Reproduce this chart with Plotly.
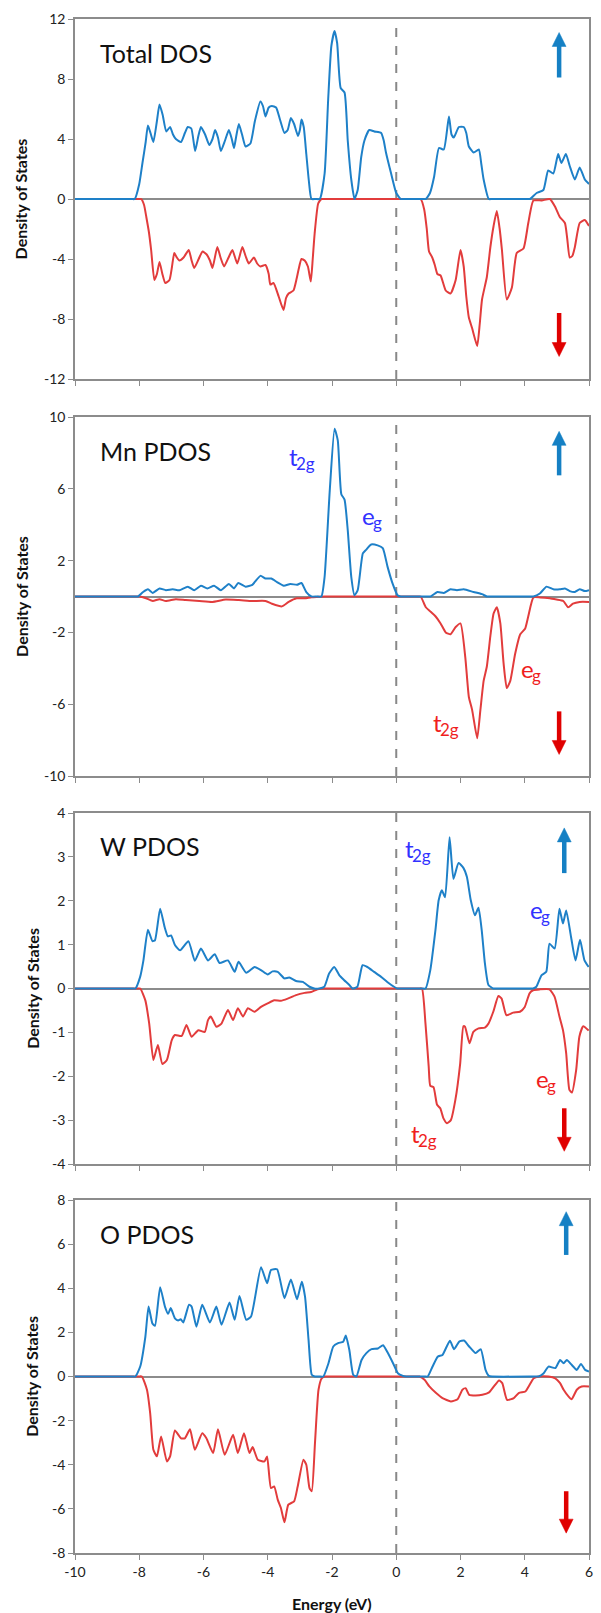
import plotly.graph_objects as go

# ---------------- data ----------------
tot_up_E = [-10, -8.24, -8.14, -8.0, -7.9, -7.8, -7.73, -7.65, -7.56, -7.45, -7.37, -7.27, -7.16, -7.04, -6.95, -6.86, -6.70, -6.58, -6.49, -6.38, -6.26, -6.16, -6.08, -5.95, -5.82, -5.72, -5.64, -5.55, -5.46, -5.33, -5.21, -5.12, -5.05, -4.98, -4.90, -4.80, -4.69, -4.54, -4.40, -4.23, -4.15, -4.07, -3.97, -3.87, -3.74, -3.62, -3.48, -3.38, -3.28, -3.18, -3.06, -3.0, -2.95, -2.88, -2.80, -2.72, -2.64, -2.51, -2.38, -2.23, -2.12, -2.02, -1.92, -1.84, -1.73, -1.61, -1.51, -1.40, -1.30, -1.20, -1.09, -0.99, -0.84, -0.68, -0.47, -0.39, -0.32, -0.16, 0.0, 0.14, 0.24, 0.82, 0.92, 1.05, 1.18, 1.33, 1.48, 1.64, 1.72, 1.79, 1.95, 2.10, 2.18, 2.26, 2.41, 2.57, 2.65, 2.72, 2.88, 2.98, 4.06, 4.16, 4.37, 4.58, 4.73, 4.89, 5.04, 5.14, 5.28, 5.40, 5.56, 5.71, 5.87, 6.0]
tot_up = [0, 0, 0, 1.0, 2.4, 3.8, 4.9, 4.4, 3.8, 5.2, 6.3, 5.6, 4.5, 4.8, 4.3, 4.0, 3.8, 4.4, 4.8, 4.7, 3.2, 4.2, 4.8, 4.3, 3.6, 4.0, 4.6, 4.1, 3.2, 3.9, 4.6, 4.0, 3.4, 4.2, 5.0, 4.3, 3.5, 3.7, 5.2, 6.5, 6.2, 5.5, 6.1, 6.2, 6.1, 5.3, 4.4, 4.6, 5.4, 5.0, 4.2, 4.6, 5.3, 4.8, 3.0, 1.2, 0, 0, 0, 1.7, 6.6, 10.2, 11.2, 10.4, 7.4, 7.1, 3.9, 1.3, 0, 0.6, 2.8, 3.9, 4.6, 4.5, 4.4, 3.9, 3.1, 1.7, 0.4, 0, 0, 0, 0, 0.4, 1.5, 3.4, 3.3, 5.5, 4.3, 4.1, 4.8, 4.8, 4.4, 3.5, 3.1, 3.3, 2.3, 1.3, 0, 0, 0, 0, 0.4, 0.6, 1.9, 1.7, 3.0, 2.4, 3.0, 2.2, 1.3, 2.1, 1.3, 1.0]

tot_dn_E = [-10, -8.04, -7.94, -7.85, -7.78, -7.70, -7.63, -7.53, -7.45, -7.37, -7.28, -7.19, -7.06, -6.98, -6.91, -6.83, -6.75, -6.62, -6.46, -6.37, -6.29, -6.15, -6.03, -5.90, -5.80, -5.72, -5.57, -5.47, -5.36, -5.22, -5.10, -4.95, -4.79, -4.69, -4.59, -4.43, -4.33, -4.23, -4.07, -3.97, -3.92, -3.82, -3.66, -3.51, -3.43, -3.35, -3.20, -3.10, -3.04, -2.95, -2.85, -2.75, -2.66, -2.60, -2.54, -2.43, -2.33, -2.23, 0.66, 0.76, 0.87, 0.95, 1.02, 1.12, 1.20, 1.28, 1.38, 1.54, 1.69, 1.85, 2.00, 2.10, 2.18, 2.26, 2.36, 2.52, 2.60, 2.67, 2.82, 2.93, 3.03, 3.13, 3.22, 3.29, 3.44, 3.60, 3.75, 3.96, 4.11, 4.27, 4.53, 4.78, 4.94, 5.09, 5.25, 5.32, 5.40, 5.48, 5.56, 5.71, 5.87, 6.0]
tot_dn = [0, 0, 0, -0.4, -1.2, -2.2, -3.4, -5.4, -5.0, -4.2, -5.0, -5.6, -5.4, -4.5, -3.6, -3.9, -4.1, -3.9, -3.4, -4.1, -4.6, -4.0, -3.5, -3.7, -4.1, -4.6, -3.2, -3.9, -4.5, -3.9, -3.4, -4.3, -3.2, -3.8, -4.3, -3.9, -4.3, -4.5, -4.4, -5.0, -5.7, -5.6, -6.5, -7.4, -6.6, -6.3, -6.1, -5.3, -4.7, -4.0, -4.1, -4.5, -5.5, -4.0, -2.3, -0.3, 0, 0, 0, 0, -0.7, -2.0, -3.5, -3.9, -4.4, -5.0, -5.1, -6.1, -6.3, -5.4, -3.4, -4.5, -6.5, -7.9, -8.6, -9.8, -8.3, -6.7, -5.2, -3.2, -1.8, -0.8, -2.0, -3.4, -6.7, -5.9, -3.6, -3.3, -1.6, -0.1, -0.1, 0, -0.5, -1.2, -1.6, -2.6, -3.9, -3.8, -3.2, -1.6, -1.4, -1.8]

mn_up_E = [-10, -8.14, -8.04, -7.88, -7.73, -7.58, -7.37, -7.17, -6.96, -6.75, -6.49, -6.29, -6.08, -5.88, -5.67, -5.46, -5.21, -5.05, -4.92, -4.69, -4.48, -4.23, -4.07, -3.89, -3.71, -3.50, -3.30, -3.09, -2.95, -2.80, -2.64, -2.48, -2.33, -2.23, -2.07, -1.92, -1.82, -1.71, -1.61, -1.51, -1.40, -1.30, -1.20, -1.04, -0.94, -0.78, -0.58, -0.42, -0.27, -0.11, 0.04, 0.14, 0.24, 0.97, 1.07, 1.28, 1.48, 1.69, 1.89, 2.10, 2.41, 2.67, 2.82, 2.92, 4.17, 4.27, 4.47, 4.68, 4.89, 5.09, 5.25, 5.40, 5.56, 5.71, 5.87, 6.0]
mn_up = [0, 0, 0, 0.25, 0.4, 0.2, 0.45, 0.35, 0.4, 0.35, 0.55, 0.35, 0.6, 0.45, 0.6, 0.35, 0.7, 0.45, 0.75, 0.55, 0.65, 1.15, 1.0, 1.0, 0.8, 0.6, 0.7, 0.65, 0.75, 0.25, 0, 0, 0, 1.1, 5.9, 9.35, 8.7, 5.7, 5.4, 3.7, 1.1, 0.07, 0.35, 2.4, 2.6, 2.9, 2.85, 2.7, 1.65, 0.7, 0.07, 0, 0, 0, 0, 0.25, 0.2, 0.4, 0.35, 0.4, 0.25, 0.13, 0, 0, 0, 0, 0.17, 0.55, 0.4, 0.4, 0.45, 0.3, 0.25, 0.4, 0.3, 0.35]

mn_dn_E = [-10, -8.09, -7.99, -7.79, -7.58, -7.37, -7.17, -6.86, -6.55, -6.13, -5.72, -5.31, -4.90, -4.48, -4.07, -3.87, -3.56, -3.35, -3.10, -2.85, -2.64, -2.43, -2.23, -2.13, 0.66, 0.76, 0.92, 1.07, 1.22, 1.38, 1.54, 1.69, 1.85, 2.00, 2.15, 2.26, 2.36, 2.52, 2.62, 2.72, 2.82, 2.93, 3.03, 3.13, 3.24, 3.34, 3.44, 3.55, 3.70, 3.86, 4.01, 4.11, 4.27, 4.48, 4.78, 4.99, 5.20, 5.35, 5.50, 5.71, 6.0]
mn_dn = [0, 0, 0, -0.1, -0.25, -0.15, -0.25, -0.15, -0.2, -0.25, -0.3, -0.17, -0.2, -0.25, -0.25, -0.4, -0.55, -0.3, -0.1, -0.1, -0.04, -0.02, 0, 0, 0, 0, -0.6, -0.85, -1.1, -1.5, -2.0, -2.1, -1.7, -1.5, -3.4, -5.6, -6.3, -7.9, -6.3, -4.7, -3.9, -2.2, -0.95, -0.6, -1.5, -3.7, -5.1, -4.7, -3.2, -2.1, -1.8, -1.1, -0.05, -0.05, -0.1, -0.17, -0.25, -0.6, -0.4, -0.3, -0.3]

w_up_E = [-10, -8.22, -8.12, -7.97, -7.87, -7.73, -7.59, -7.51, -7.35, -7.21, -7.11, -7.01, -6.89, -6.73, -6.47, -6.27, -6.08, -5.86, -5.65, -5.50, -5.24, -5.03, -4.91, -4.67, -4.41, -4.21, -4.0, -3.85, -3.69, -3.48, -3.33, -3.12, -2.91, -2.70, -2.55, -2.40, -2.24, -2.09, -1.93, -1.77, -1.62, -1.46, -1.36, -1.21, -1.05, -0.90, -0.69, -0.48, -0.28, -0.07, 0.03, 0.13, 0.81, 0.91, 1.06, 1.22, 1.32, 1.42, 1.52, 1.66, 1.78, 1.94, 2.09, 2.20, 2.32, 2.45, 2.56, 2.66, 2.76, 2.87, 3.02, 3.12, 4.16, 4.26, 4.36, 4.52, 4.67, 4.77, 4.93, 5.08, 5.19, 5.29, 5.44, 5.58, 5.72, 5.86, 5.99]
w_up = [0, 0, 0, 0.27, 0.64, 1.34, 1.08, 1.1, 1.82, 1.4, 1.19, 1.21, 0.99, 0.87, 1.08, 0.63, 0.91, 0.64, 0.78, 0.58, 0.64, 0.38, 0.61, 0.36, 0.49, 0.42, 0.32, 0.39, 0.38, 0.23, 0.25, 0.17, 0.15, 0.04, 0, 0, 0.04, 0.34, 0.49, 0.3, 0.19, 0.08, 0, 0.04, 0.53, 0.49, 0.38, 0.27, 0.15, 0.04, 0, 0, 0, 0, 0.42, 1.33, 2.01, 2.24, 2.08, 3.45, 2.5, 2.86, 2.75, 2.54, 2.01, 1.67, 1.84, 1.33, 0.57, 0.08, 0, 0, 0, 0, 0.04, 0.3, 0.38, 1.02, 0.91, 1.82, 1.48, 1.78, 1.18, 0.64, 1.11, 0.64, 0.49]

w_dn_E = [-10, -8.07, -7.97, -7.81, -7.69, -7.56, -7.42, -7.28, -7.14, -6.99, -6.89, -6.68, -6.53, -6.37, -6.16, -5.96, -5.86, -5.77, -5.60, -5.44, -5.24, -5.08, -4.93, -4.77, -4.62, -4.41, -4.21, -4.0, -3.80, -3.59, -3.38, -3.12, -2.85, -2.65, -2.45, -2.24, -2.14, 0.70, 0.80, 0.91, 1.01, 1.06, 1.16, 1.27, 1.37, 1.47, 1.58, 1.70, 1.84, 1.99, 2.09, 2.14, 2.28, 2.40, 2.56, 2.76, 2.87, 3.02, 3.18, 3.28, 3.43, 3.64, 3.85, 4.0, 4.15, 4.26, 4.46, 4.77, 4.93, 5.08, 5.19, 5.29, 5.39, 5.47, 5.60, 5.70, 5.82, 5.99]
w_dn = [0, 0, 0, -0.27, -0.8, -1.63, -1.29, -1.72, -1.63, -1.18, -1.06, -1.08, -0.83, -1.1, -0.95, -0.99, -0.72, -0.64, -0.87, -0.8, -0.49, -0.72, -0.45, -0.64, -0.45, -0.53, -0.42, -0.34, -0.27, -0.28, -0.23, -0.15, -0.1, -0.08, -0.02, 0, 0, 0, 0, -0.8, -1.78, -2.22, -2.25, -2.65, -2.73, -2.96, -3.07, -3.0, -2.54, -1.71, -0.86, -0.87, -1.25, -0.99, -0.91, -0.89, -0.8, -0.53, -0.17, -0.23, -0.61, -0.55, -0.53, -0.42, -0.11, -0.04, -0.02, -0.02, -0.19, -0.64, -0.95, -1.48, -2.31, -2.37, -1.86, -1.1, -0.86, -0.96]

o_up_E = [-10, -8.22, -8.12, -7.97, -7.81, -7.71, -7.59, -7.51, -7.35, -7.20, -7.10, -7.02, -6.89, -6.79, -6.71, -6.63, -6.45, -6.37, -6.22, -6.04, -5.80, -5.60, -5.44, -5.19, -5.03, -4.88, -4.67, -4.52, -4.21, -4.02, -3.90, -3.71, -3.48, -3.28, -3.09, -2.94, -2.84, -2.73, -2.63, -2.53, -2.40, -2.27, -2.11, -1.96, -1.81, -1.65, -1.57, -1.46, -1.34, -1.24, -1.08, -0.93, -0.77, -0.57, -0.41, -0.26, -0.10, 0.05, 0.21, 0.31, 0.88, 0.98, 1.13, 1.29, 1.44, 1.67, 1.80, 1.96, 2.11, 2.27, 2.47, 2.63, 2.78, 2.88, 2.98, 4.33, 4.43, 4.59, 4.74, 4.95, 5.10, 5.21, 5.31, 5.46, 5.62, 5.75, 5.88, 6.0]
o_up = [0, 0, 0, 0.45, 1.8, 3.17, 2.4, 2.3, 4.05, 3.17, 2.84, 3.1, 2.64, 2.54, 2.6, 2.45, 3.25, 3.17, 2.26, 3.25, 2.45, 3.17, 2.34, 3.35, 2.57, 3.65, 2.57, 2.72, 4.95, 4.23, 4.83, 4.86, 3.55, 4.4, 3.5, 4.3, 3.62, 1.66, 0.08, 0, 0, 0, 0.6, 1.36, 1.51, 1.58, 1.86, 1.2, 0.08, 0, 0.75, 1.06, 1.24, 1.27, 1.42, 1.06, 0.6, 0.15, 0.03, 0, 0, 0, 0.45, 0.9, 0.98, 1.62, 1.24, 1.58, 1.63, 1.36, 1.06, 1.24, 0.3, 0.03, 0, 0, 0, 0.15, 0.45, 0.38, 0.75, 0.6, 0.75, 0.53, 0.3, 0.57, 0.3, 0.23]

o_dn_E = [-10, -8.02, -7.92, -7.76, -7.66, -7.56, -7.45, -7.32, -7.14, -7.04, -6.89, -6.70, -6.58, -6.42, -6.27, -6.04, -5.91, -5.70, -5.55, -5.34, -5.08, -4.93, -4.74, -4.57, -4.47, -4.31, -4.10, -4.02, -3.90, -3.80, -3.69, -3.59, -3.48, -3.36, -3.18, -3.07, -2.89, -2.80, -2.70, -2.63, -2.53, -2.42, -2.32, -2.22, -2.12, 0.62, 0.72, 0.88, 1.03, 1.24, 1.44, 1.70, 1.91, 2.06, 2.16, 2.27, 2.47, 2.68, 2.89, 3.04, 3.20, 3.30, 3.45, 3.66, 3.81, 4.02, 4.12, 4.28, 4.43, 4.74, 4.95, 5.10, 5.21, 5.36, 5.46, 5.62, 5.77, 6.0]
o_dn = [0, 0, 0, -0.6, -1.66, -3.32, -3.62, -2.72, -3.85, -3.62, -2.45, -2.8, -2.8, -2.39, -3.32, -2.57, -2.8, -3.47, -2.39, -3.55, -2.64, -3.47, -2.57, -3.47, -3.2, -3.77, -3.85, -3.62, -5.06, -4.98, -5.58, -5.96, -6.61, -5.81, -5.66, -5.0, -3.77, -4.0, -5.06, -5.2, -3.02, -0.6, -0.08, 0, 0, 0, 0, -0.15, -0.45, -0.75, -0.98, -1.13, -1.03, -0.6, -0.53, -0.83, -0.86, -0.83, -0.72, -0.45, -0.18, -0.3, -1.06, -0.98, -0.75, -0.68, -0.45, -0.08, 0, 0, -0.08, -0.3, -0.6, -0.9, -1.03, -0.6, -0.45, -0.45]

panel_titles = ["Total DOS", "Mn PDOS", "W PDOS", "O PDOS"]
y_ranges = [[-12, 12], [-10, 10], [-4, 4], [-8, 8]]
y_ticks = [[-12, -8, -4, 0, 4, 8, 12], [-10, -6, -2, 2, 6, 10], [-4, -3, -2, -1, 0, 1, 2, 3, 4], [-8, -6, -4, -2, 0, 2, 4, 6, 8]]
x_ticks = [-10, -8, -6, -4, -2, 0, 2, 4, 6]
x_range = [-10, 6]

series = [
    (tot_up_E, tot_up, tot_dn_E, tot_dn),
    (mn_up_E, mn_up, mn_dn_E, mn_dn),
    (w_up_E, w_up, w_dn_E, w_dn),
    (o_up_E, o_up, o_dn_E, o_dn),
]

# spin arrows: x position, up arrow (tail y, tip y), down arrow (tail y, tip y)
arrows = [
    (5.07, (8.1, 11.1), (-7.6, -10.5)),
    (5.07, (6.75, 9.2), (-6.4, -8.8)),
    (5.23, (2.63, 3.66), (-2.73, -3.71)),
    (5.29, (5.51, 7.47), (-5.2, -7.1)),
]

# orbital labels: (panel index, x centre, y, main letter, subscript, spin)
orb_labels = [
    (1, -2.93, 7.8, "t", "2g", "up"),
    (1, -0.76, 4.5, "e", "g", "up"),
    (1, 4.18, -4.0, "e", "g", "dn"),
    (1, 1.55, -7.0, "t", "2g", "dn"),
    (2, 0.66, 3.2, "t", "2g", "up"),
    (2, 4.46, 1.8, "e", "g", "up"),
    (2, 4.64, -2.05, "e", "g", "dn"),
    (2, 0.87, -3.3, "t", "2g", "dn"),
]

# ---------------- style ----------------
FONT = "Lato, 'Open Sans', sans-serif"
BLUE = "#1E80C8"
RED = "#E23C3C"
ARROW_BLUE = "#1580C4"
ARROW_RED = "#E00000"
TXT_BLUE = "#3232FF"
TXT_RED = "#F01E1E"
GRAY = "#8C8C8C"
LBL_SIZE = 24
SUB_SIZE = 17
MAIN_W = {"t": 8.0, "e": 12.4}
SUB_W = {"2g": 18.7, "g": 8.8}

H = 1613
W = 601
ML, MR, MT, MB = 75, 8, 19, 60
plot_h = H - MT - MB
plot_w = W - ML - MR
panel_px = [(19, 379), (417, 776), (813, 1164), (1200, 1553)]
ytitle_px = [20, 21, 32, 31]
domains = [[(H - MB - b) / plot_h, (H - MB - t) / plot_h] for (t, b) in panel_px]
domains = [[max(0, d0), min(1, d1)] for d0, d1 in domains]

SHAFT_W = 4.5
HEAD_W = 14
HEAD_L = 14

fig = go.Figure()
annotations = []
shapes = []
layout = {}

x_ppu = plot_w / (x_range[1] - x_range[0])

for i in range(4):
    n = "" if i == 0 else str(i + 1)
    xr = "x" + n
    yr = "y" + n
    up_E, up, dn_E, dn = series[i]
    fig.add_trace(go.Scatter(x=dn_E, y=dn, mode="lines", xaxis=xr, yaxis=yr,
                             line=dict(color=RED, width=2, shape="spline", smoothing=0.5),
                             showlegend=False, hoverinfo="skip"))
    fig.add_trace(go.Scatter(x=up_E, y=up, mode="lines", xaxis=xr, yaxis=yr,
                             line=dict(color=BLUE, width=2, shape="spline", smoothing=0.5),
                             showlegend=False, hoverinfo="skip"))
    layout["xaxis" + n] = dict(
        domain=[0, 1], anchor=yr, range=x_range, tickvals=x_ticks,
        ticktext=[str(v) for v in x_ticks], showticklabels=(i == 3),
        ticks="outside", ticklen=5, tickcolor=GRAY, tickwidth=1,
        showline=True, linecolor=GRAY, linewidth=1.5, mirror=True,
        showgrid=False, zeroline=False,
        tickfont=dict(family=FONT, size=14, color="#222"),
        fixedrange=True,
    )
    layout["yaxis" + n] = dict(
        domain=domains[i], anchor=xr, range=y_ranges[i], tickvals=y_ticks[i],
        ticktext=[str(v) for v in y_ticks[i]],
        ticks="outside", ticklen=5, tickcolor=GRAY, tickwidth=1,
        showline=True, linecolor=GRAY, linewidth=1.5, mirror=True,
        showgrid=False, zeroline=True, zerolinecolor=GRAY, zerolinewidth=1.5,
        tickfont=dict(family=FONT, size=14, color="#222"),
        fixedrange=True,
    )
    shapes.append(dict(type="line", xref=xr, yref=yr + " domain", x0=0, x1=0, y0=0, y1=1,
                       line=dict(color="#888888", width=2, dash="dash"), layer="below"))
    annotations.append(dict(text=panel_titles[i], xref=xr + " domain", yref=yr + " domain",
                            x=0.044, y=0.905, xanchor="left", yanchor="middle", showarrow=False,
                            font=dict(family=FONT, size=25, color="#111")))
    d0, d1 = domains[i]
    annotations.append(dict(text="<b>Density of States</b>", xref="paper", yref="paper",
                            x=(ytitle_px[i] - ML) / plot_w, y=(d0 + d1) / 2, textangle=-90,
                            xanchor="center", yanchor="middle", showarrow=False,
                            font=dict(family=FONT, size=16, color="#111")))
    panel_h_px = panel_px[i][1] - panel_px[i][0]
    y_ppu = panel_h_px / (y_ranges[i][1] - y_ranges[i][0])
    ax_x, (u0, u1), (v0, v1) = arrows[i]
    hw = HEAD_W / 2 / x_ppu
    hl = HEAD_L / y_ppu
    for (t0, t1, col, sgn) in [(u0, u1, ARROW_BLUE, 1), (v0, v1, ARROW_RED, -1)]:
        base = t1 - sgn * hl
        shapes.append(dict(type="line", xref=xr, yref=yr, x0=ax_x, x1=ax_x, y0=t0, y1=base + sgn * 0.1 * hl,
                           line=dict(color=col, width=SHAFT_W)))
        shapes.append(dict(type="path", xref=xr, yref=yr,
                           path=f"M {ax_x - hw},{base} L {ax_x + hw},{base} L {ax_x},{t1} Z",
                           fillcolor=col, line=dict(color=col, width=0.5)))

for (pi, x, y, main, sub, kind) in orb_labels:
    n = "" if pi == 0 else str(pi + 1)
    col = TXT_BLUE if kind == "up" else TXT_RED
    total = MAIN_W[main] + SUB_W[sub]
    joint = -total / 2 + MAIN_W[main]
    annotations.append(dict(text=main, x=x, y=y, xref="x" + n, yref="y" + n,
                            showarrow=False, xanchor="right", yanchor="middle",
                            xshift=joint + 1.5, borderpad=0, borderwidth=0,
                            font=dict(family=FONT, size=LBL_SIZE, color=col)))
    annotations.append(dict(text=sub, x=x, y=y, xref="x" + n, yref="y" + n,
                            showarrow=False, xanchor="left", yanchor="middle",
                            xshift=joint - 0.5, yshift=-7, borderpad=0, borderwidth=0,
                            font=dict(family=FONT, size=SUB_SIZE, color=col)))

annotations.append(dict(text="<b>Energy (eV)</b>", xref="paper", yref="paper",
                        x=0.5, y=(H - MB - 1603) / plot_h, xanchor="center", yanchor="middle",
                        showarrow=False, font=dict(family=FONT, size=16, color="#111")))

fig.update_layout(
    width=W, height=H,
    margin=dict(l=ML, r=MR, t=MT, b=MB),
    paper_bgcolor="white", plot_bgcolor="white",
    annotations=annotations, shapes=shapes,
    font=dict(family=FONT),
    **layout,
)

fig.write_html("out.html", config={"displayModeBar": False})
